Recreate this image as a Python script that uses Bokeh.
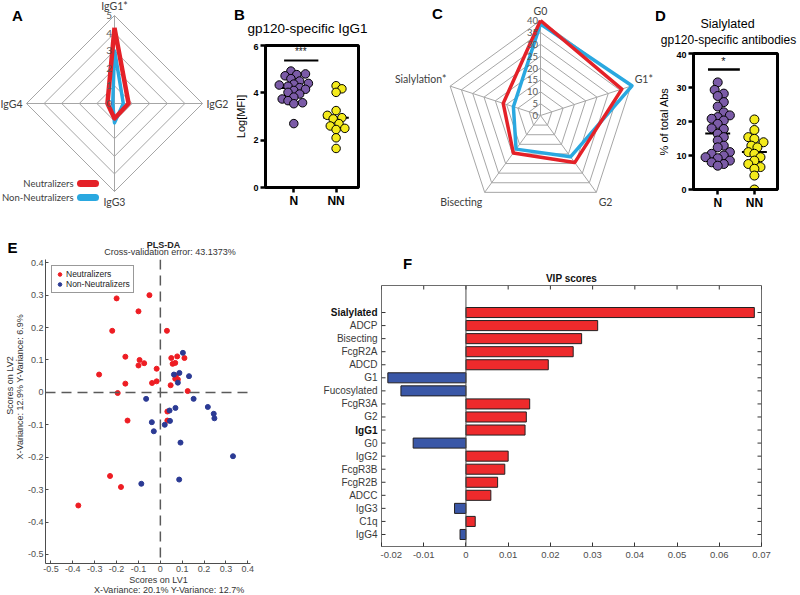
import math
from bokeh.plotting import figure
from bokeh.models import Range1d, Label, Span, FixedTicker, Legend, LegendItem, ColumnDataSource
from bokeh.layouts import row, column
from bokeh.embed import file_html
from bokeh.resources import INLINE
from bokeh.core.properties import value

# ================= DATA =================
# Panel A - IgG subclass radar
a_axes = ["IgG1*", "IgG2", "IgG3", "IgG4"]
a_neutralizers = [4.3, 0.8, 0.85, 0.4]
a_non_neutralizers = [3.05, 0.5, 1.1, 0.1]
a_ring_values = [0, 1, 2, 3, 4, 5]
a_ring_labels = ["0", "1", "2", "3", "4", "5"]
a_legend = ["Neutralizers", "Non-Neutralizers"]

# Panel B - gp120-specific IgG1
b_title = "gp120-specific IgG1"
b_groups = ["N", "NN"]
b_n = [4.92, 4.8, 4.77, 4.72, 4.6, 4.5, 4.4, 4.37, 4.33, 4.28, 4.22,
       4.15, 4.1, 4.02, 3.95, 3.82, 3.74, 3.67, 3.58, 3.54, 2.7]
b_nn = [4.3, 4.17, 4.02, 3.25, 3.05, 2.95, 2.9, 2.7, 2.6, 2.5, 2.45, 2.1, 1.65]
b_means = [4.2, 2.95]
b_yticks = [0, 2, 4, 6]
b_ylabel = "Log[MFI]"
b_sig = "***"

# Panel C - glycan radar
c_axes = ["G0", "G1*", "G2", "Bisecting", "Sialylation*"]
c_neutralizers = [40, 36, 24.5, 19.5, 16.5]
c_non_neutralizers = [38.5, 40.5, 21.5, 17.5, 12]
c_ring_values = [0, 5, 10, 15, 20, 25, 30, 35, 40]
c_ring_labels = ["0", "5", "10", "15", "20", "25", "30", "35", "40"]

# Panel D - sialylated antibodies
d_title = ["Sialylated", "gp120-specific antibodies"]
d_groups = ["N", "NN"]
d_n = [31.5, 29.3, 28.2, 27.5, 25.7, 24.4, 22.7, 21.8, 21.3, 20.8, 20.3, 19.3,
       18.0, 17.8, 16.4, 15.4, 14.4, 12.9, 12.4, 11.0, 10.5, 10.0, 9.5, 9.2,
       8.5, 8.0, 7.5, 7.0]
d_nn = [20.6, 17.5, 15.4, 14.9, 13.9, 12.9, 12.4, 11.0, 10.5, 9.5, 8.5, 7.5,
        6.6, 6.1, 4.1, 0.0]
d_means = [16.5, 11.0]
d_yticks = [0, 10, 20, 30, 40]
d_ylabel = "% of total Abs"
d_sig = "*"

# Panel E - PLS-DA scores
e_neut_x = [-0.05, -0.20, -0.10, -0.22, 0.03, -0.16, -0.095, -0.10, -0.074, -0.28,
            -0.017, -0.16, -0.038, -0.017, -0.195, -0.15, 0.05, 0.077, 0.11, 0.056,
            0.068, 0.071, 0.068, 0.08, 0.047, 0.125, 0.032, 0.032, -0.23, -0.18, -0.375]
e_neut_y = [0.30, 0.29, 0.25, 0.19, 0.19, 0.11, 0.10, 0.083, 0.09, 0.055,
            0.073, 0.027, 0.029, 0.034, -0.002, -0.087, 0.106, 0.111, 0.106, 0.088,
            0.091, 0.052, 0.042, 0.04, 0.022, 0.004, -0.059, -0.087, -0.258, -0.292, -0.349]
e_non_x = [0.103, 0.062, 0.087, 0.08, 0.131, 0.152, -0.065, 0.069, 0.042, 0.044,
           -0.039, 0.02, -0.03, 0.217, 0.244, 0.247, 0.092, 0.332, -0.087, 0.086]
e_non_y = [0.122, 0.055, 0.06, 0.03, 0.05, -0.02, -0.02, -0.048, -0.056, -0.088,
           -0.092, -0.10, -0.12, -0.045, -0.066, -0.08, -0.155, -0.197, -0.282, -0.269]
e_ticks = [-0.5, -0.4, -0.3, -0.2, -0.1, 0, 0.1, 0.2, 0.3, 0.4]
e_tick_labels = ["-0.5", "-0.4", "-0.3", "-0.2", "-0.1", "0", "0.1", "0.2", "0.3", "0.4"]
e_title = "PLS-DA"
e_subtitle = "Cross-validation error: 43.1373%"
e_xlabel = ["Scores on LV1", "X-Variance: 20.1%  Y-Variance: 12.7%"]
e_ylabel = ["Scores on LV2", "X-Variance: 12.9%  Y-Variance: 6.9%"]
e_legend = ["Neutralizers", "Non-Neutralizers"]

# Panel F - VIP scores
f_features = ["Sialylated", "ADCP", "Bisecting", "FcgR2A", "ADCD", "G1", "Fucosylated",
              "FcgR3A", "G2", "IgG1", "G0", "IgG2", "FcgR3B", "FcgR2B", "ADCC", "IgG3",
              "C1q", "IgG4"]
f_vip = [0.0683, 0.0312, 0.0274, 0.0254, 0.0195, -0.0185, -0.0154, 0.0151, 0.0143,
         0.0140, -0.0125, 0.0100, 0.0092, 0.0075, 0.0059, -0.0027, 0.0022, -0.0014]
f_bold = ["Sialylated", "IgG1"]
f_ticks = [-0.02, -0.01, 0, 0.01, 0.02, 0.03, 0.04, 0.05, 0.06, 0.07]
f_tick_labels = ["-0.02", "-0.01", "0", "0.01", "0.02", "0.03", "0.04", "0.05", "0.06", "0.07"]
f_title = "VIP scores"

# ================= STYLE =================
SANS = "Liberation Sans"
CAL = "Lato"
RADAR_RED = "#E42128"
RADAR_BLUE = "#2AA8E0"
PURPLE = "#7B5BA7"
YELLOW = "#F4EB1C"
E_RED = "#EE1D23"
E_BLUE = "#2B3A94"
F_RED = "#EE2A2C"
F_BLUE = "#3A57A7"
TOP_Y, TOP_H = 0, 236
BOT_Y, BOT_H = 236, 359


def mapper(fx0, fx1, fy0, fy1, xr, yr):
    sx = (xr[1] - xr[0]) / (fx1 - fx0)
    sy = (yr[1] - yr[0]) / (fy1 - fy0)
    return (lambda px: xr[0] + (px - fx0) * sx), (lambda py: yr[1] - (py - fy0) * sy)


def base_fig(w, h, xr, yr, borders, axes=True):
    kw = dict(width=w, height=h, x_range=xr if isinstance(xr, Range1d) else Range1d(*xr),
              y_range=yr if isinstance(yr, Range1d) else Range1d(*yr),
              output_backend="svg", toolbar_location=None, tools="",
              min_border_left=borders[0], min_border_right=borders[1],
              min_border_top=borders[2], min_border_bottom=borders[3])
    if axes is False:
        kw.update(x_axis_location=None, y_axis_location=None)
    elif axes == "x":
        kw.update(y_axis_location=None)
    p = figure(**kw)
    p.frame_align = False
    p.grid.visible = False
    p.outline_line_color = None
    p.background_fill_color = "white"
    p.border_fill_color = "white"
    return p


def strip(x0, y0, w, h):
    # a text-only strip whose data units are page pixels (y negated)
    return base_fig(w, h, (x0, x0 + w), (-(y0 + h), -y0), (0, 0, 0, 0), axes=False)


def stext(p, px, py, s, size, font=SANS, bold=False, align="center",
          baseline="middle", color="#000000", angle=0.0):
    p.text(x=[px], y=[-py], text=[s], text_font=value(font),
           text_font_size=value(f"{size}px"),
           text_font_style=value("bold" if bold else "normal"),
           text_align=value(align), text_baseline=value(baseline),
           text_color=color, angle=angle)


def label(p, x, y, s, size, font=SANS, bold=False, align="center",
          baseline="middle", color="#000000"):
    p.add_layout(Label(x=x, y=y, text=s, text_font=font, text_font_size=f"{size}px",
                       text_font_style="bold" if bold else "normal",
                       text_align=align, text_baseline=baseline, text_color=color))


def radar(p, s, labels, series, ring_values, ring_labels, label_size, ring_size):
    n = len(labels)
    rmax = ring_values[-1]
    ang = [math.pi / 2 - 2 * math.pi * k / n for k in range(n)]

    def poly(vals):
        xs = [v * math.cos(a) for v, a in zip(vals, ang)]
        ys = [v * math.sin(a) for v, a in zip(vals, ang)]
        return xs + xs[:1], ys + ys[:1]

    gx, gy = [], []
    for r in ring_values[1:]:
        x, y = poly([r] * n)
        gx.append(x)
        gy.append(y)
    for a in ang:
        gx.append([0, rmax * math.cos(a)])
        gy.append([0, rmax * math.sin(a)])
    p.multi_line(gx, gy, line_color="#A6A6A6", line_width=1)
    for r, lab in zip(ring_values, ring_labels):
        label(p, -2.5 / s, r, lab, ring_size, font=CAL, align="right", color="#595959")
    for vals, color, w in series:
        x, y = poly(vals)
        p.line(x, y, line_color=color, line_width=w, line_join="round")
    off = 4.0 / s
    for lab, a in zip(labels, ang):
        c, sn = math.cos(a), math.sin(a)
        align = "left" if c > 0.3 else ("right" if c < -0.3 else "center")
        base = "bottom" if sn > 0.3 else ("top" if sn < -0.3 else "middle")
        label(p, (rmax + off) * c, (rmax + off) * sn, lab, label_size, font=CAL,
              align=align, baseline=base, color="#404040")


def swarm(vals, center, px_x, px_y, d, gap):
    order = sorted(range(len(vals)), key=lambda i: vals[i])
    placed = []
    out = [center] * len(vals)
    cands = [0.0]
    for k in range(1, 40):
        cands += [k * d * 0.35, -k * d * 0.35]
    for i in order:
        ypx = vals[i] * px_y
        chosen = 0.0
        for c in cands:
            if all((c - qx) ** 2 + (ypx - qy) ** 2 >= (d * gap) ** 2 for qx, qy in placed):
                chosen = c
                break
        placed.append((chosen, ypx))
        out[i] = center + chosen / px_x
    return out


def prism_axes(p, yticks, xlabels, ylabel):
    p.outline_line_color = "black"
    p.outline_line_width = 3
    xa, ya = p.xaxis[0], p.yaxis[0]
    xa.ticker = FixedTicker(ticks=[1, 2])
    xa.major_label_overrides = {1: xlabels[0], 2: xlabels[1]}
    ya.ticker = FixedTicker(ticks=yticks)
    for ax in (xa, ya):
        ax.axis_line_width = 3
        ax.axis_line_color = "black"
        ax.major_tick_line_width = 2.5
        ax.major_tick_line_color = "black"
        ax.major_tick_out = 5
        ax.major_tick_in = 0
        ax.minor_tick_line_color = None
        ax.major_label_text_font = SANS
        ax.major_label_text_font_style = "bold"
        ax.major_label_text_color = "black"
    xa.major_label_text_font_size = "12px"
    xa.major_label_standoff = 1
    ya.major_label_text_font_size = "9px"
    ya.major_label_standoff = 2
    ya.axis_label = ylabel
    ya.axis_label_text_font = SANS
    ya.axis_label_text_font_style = "normal"
    ya.axis_label_text_font_size = "11px"
    ya.axis_label_text_color = "black"
    ya.axis_label_standoff = 3


def scatter_groups(p, groups_vals, means, pxx, pxy, d, half):
    for k, (vals, col) in enumerate(groups_vals):
        xs = swarm(vals, k + 1, pxx, pxy, d, 0.72)
        p.segment(x0=[k + 1 - half], x1=[k + 1 + half], y0=[means[k]], y1=[means[k]],
                  line_color="black", line_width=2)
        p.scatter(xs, vals, size=d, fill_color=col, line_color="black", line_width=1)


# ================= PANEL A =================
A_L, A_W = 0, 232
a_cx, a_cy, a_s = 114, 103, 17.6
pa = base_fig(A_W, TOP_H, ((A_L - a_cx) / a_s, (A_L + A_W - a_cx) / a_s),
              ((a_cy - (TOP_Y + TOP_H)) / a_s, (a_cy - TOP_Y) / a_s), (0, 0, 0, 0), axes=False)
aX = lambda px: (px - a_cx) / a_s
aY = lambda py: (a_cy - py) / a_s
radar(pa, a_s, a_axes, [(a_non_neutralizers, RADAR_BLUE, 3.5), (a_neutralizers, RADAR_RED, 4.5)],
      a_ring_values, a_ring_labels, 10.5, 10)
label(pa, aX(17), aY(15), "A", 15, bold=True)
for i, (lab, col) in enumerate(zip(a_legend, [RADAR_RED, RADAR_BLUE])):
    yy = 183 + 14 * i
    label(pa, aX(73), aY(yy), lab, 9.5, font=CAL, align="right", color="#404040")
    pa.line([aX(80), aX(95)], [aY(yy), aY(yy)], line_color=col, line_width=7, line_cap="round")

# ================= PANEL B =================
B_L, B_W, B_SH = 232, 153, 43
b_fx0, b_fx1, b_fy0, b_fy1 = 263, 358, 45, 187
b_xr, b_yr = (0.33, 2.53), (0, 6)
b_strip = strip(B_L, TOP_Y, B_W, B_SH)
stext(b_strip, 239, 14, "B", 15, bold=True)
stext(b_strip, 307, 28, b_title, 13.5)
b_top = TOP_Y + B_SH
pb = base_fig(B_W, TOP_H - B_SH, b_xr, b_yr,
              (b_fx0 - B_L, B_L + B_W - b_fx1, b_fy0 - b_top, TOP_Y + TOP_H - b_fy1))
bX, bY = mapper(b_fx0, b_fx1, b_fy0, b_fy1, b_xr, b_yr)
prism_axes(pb, b_yticks, b_groups, b_ylabel)
scatter_groups(pb, [(b_n, PURPLE), (b_nn, YELLOW)], b_means,
               (b_fx1 - b_fx0) / (b_xr[1] - b_xr[0]), (b_fy1 - b_fy0) / (b_yr[1] - b_yr[0]), 8.5, 0.3)
pb.segment(x0=[bX(282)], x1=[bX(317)], y0=[bY(60)], y1=[bY(60)], line_color="black", line_width=2)
label(pb, bX(299), bY(56), b_sig, 10, baseline="bottom", color="#111111")

# ================= PANEL C =================
C_L, C_W = 385, 270
c_cx, c_cy, c_s = 540, 115, 2.375
pc = base_fig(C_W, TOP_H, ((C_L - c_cx) / c_s, (C_L + C_W - c_cx) / c_s),
              ((c_cy - (TOP_Y + TOP_H)) / c_s, (c_cy - TOP_Y) / c_s), (0, 0, 0, 0), axes=False)
cX = lambda px: (px - c_cx) / c_s
cY = lambda py: (c_cy - py) / c_s
radar(pc, c_s, c_axes, [(c_non_neutralizers, RADAR_BLUE, 3.5), (c_neutralizers, RADAR_RED, 3.5)],
      c_ring_values, c_ring_labels, 10.5, 9.5)
label(pc, cX(437), cY(13), "C", 15, bold=True)

# ================= PANEL D =================
D_L, D_W, D_SH = 655, 145, 51
d_fx0, d_fx1, d_fy0, d_fy1 = 690, 777, 53, 189
d_xr, d_yr = (0.34, 2.63), (0, 40)
d_strip = strip(D_L, TOP_Y, D_W, D_SH)
stext(d_strip, 660, 15, "D", 15, bold=True)
stext(d_strip, 727, 23, d_title[0], 12.5)
stext(d_strip, 728, 39, d_title[1], 12)
d_top = TOP_Y + D_SH
pd_ = base_fig(D_W, TOP_H - D_SH, d_xr, d_yr,
               (d_fx0 - D_L, D_L + D_W - d_fx1, d_fy0 - d_top, TOP_Y + TOP_H - d_fy1))
dX, dY = mapper(d_fx0, d_fx1, d_fy0, d_fy1, d_xr, d_yr)
prism_axes(pd_, d_yticks, d_groups, d_ylabel)
scatter_groups(pd_, [(d_n, PURPLE), (d_nn, YELLOW)], d_means,
               (d_fx1 - d_fx0) / (d_xr[1] - d_xr[0]), (d_fy1 - d_fy0) / (d_yr[1] - d_yr[0]), 9, 0.34)
pd_.segment(x0=[dX(705)], x1=[dX(738)], y0=[dY(69)], y1=[dY(69)], line_color="black", line_width=2.5)
label(pd_, dX(721), dY(66), d_sig, 11, baseline="bottom", color="#111111")

# ================= PANEL E =================
E_L, E_W, E_SH, E_LW, E_BH = 0, 300, 21, 24, 20
e_fx0, e_fx1, e_fy0, e_fy1 = 43, 250, 259, 563
e_xr, e_yr = (-0.525, 0.412), (-0.528, 0.41)
e_strip = strip(E_L, BOT_Y, E_W, E_SH)
stext(e_strip, 12, 247, "E", 15, bold=True)
stext(e_strip, 163, 244.5, e_title, 9, bold=True, color="#222222")
stext(e_strip, 169.5, 251.5, e_subtitle, 9, color="#333333")
e_top = BOT_Y + E_SH
e_mid_h = BOT_Y + BOT_H - e_top
e_left = strip(E_L, e_top, E_LW, e_mid_h)
stext(e_left, 9, 385, e_ylabel[0], 9, color="#333333", angle=math.pi / 2)
stext(e_left, 19, 385, e_ylabel[1], 9, color="#333333", angle=math.pi / 2)
pe_L = E_L + E_LW
pe_W = E_W - E_LW
pe_H = e_mid_h - E_BH
pe = base_fig(pe_W, pe_H, e_xr, e_yr,
              (e_fx0 - pe_L, pe_L + pe_W - e_fx1, e_fy0 - e_top, e_top + pe_H - e_fy1))
for ax in (pe.xaxis[0], pe.yaxis[0]):
    ax.ticker = FixedTicker(ticks=e_ticks)
    ax.major_label_overrides = dict(zip(e_ticks, e_tick_labels))
    ax.axis_line_color = "#4D4D4D"
    ax.major_tick_line_color = "#4D4D4D"
    ax.major_tick_in = 3
    ax.major_tick_out = 0
    ax.minor_tick_line_color = None
    ax.major_label_text_font = SANS
    ax.major_label_text_font_size = "9px"
    ax.major_label_text_color = "#4D4D4D"
    ax.major_label_standoff = 2
pe.add_layout(Span(location=0, dimension="height", line_color="#5A5A5A", line_width=1.5, line_dash="10 6"))
pe.add_layout(Span(location=0, dimension="width", line_color="#5A5A5A", line_width=1.5, line_dash="10 6"))
r_neut = pe.scatter(e_neut_x, e_neut_y, size=5, fill_color=E_RED, line_color=E_RED)
r_non = pe.scatter(e_non_x, e_non_y, size=5, fill_color=E_BLUE, line_color=E_BLUE)
leg = Legend(items=[LegendItem(label=e_legend[0], renderers=[r_neut]),
                    LegendItem(label=e_legend[1], renderers=[r_non])],
             location="top_left", margin=6, padding=3, spacing=0,
             border_line_color="#333333", border_line_width=1,
             label_text_font=SANS, label_text_font_size="8.5px", label_text_color="#222222",
             glyph_width=9, glyph_height=10, label_height=10, label_standoff=2)
pe.add_layout(leg)
e_bottom = strip(pe_L, e_top + pe_H, pe_W, E_BH)
stext(e_bottom, 158, 579, e_xlabel[0], 9, color="#333333")
stext(e_bottom, 170, 589, e_xlabel[1], 9, color="#333333")

# ================= PANEL F =================
F_L, F_W, F_SH, F_LW = 300, 500, 47, 80
f_fx0, f_fx1, f_fy0, f_fy1 = 381, 761, 285, 546
f_xr = (-0.02, 0.07)
f_yrange = Range1d(17.92, -2.07)
f_strip = strip(F_L, BOT_Y, F_W, F_SH)
stext(f_strip, 407, 263, "F", 15, bold=True)
stext(f_strip, 571, 278, f_title, 10, bold=True, color="#111111")
f_top = BOT_Y + F_SH
f_h = BOT_Y + BOT_H - f_top
f_idx = list(range(len(f_features)))
f_lab = base_fig(F_LW, f_h, (F_L, F_L + F_LW), f_yrange,
                 (0, 0, f_fy0 - f_top, f_top + f_h - f_fy1), axes=False)
f_lab.text(x=[377] * len(f_features), y=f_idx, text=f_features, text_font=value(SANS),
           text_font_size=value("10px"),
           text_font_style=["bold" if n in f_bold else "normal" for n in f_features],
           text_color=["#111111" if n in f_bold else "#3A3A3A" for n in f_features],
           text_align=value("right"), text_baseline=value("middle"))
pf_L = F_L + F_LW
pf_W = F_W - F_LW
pf = base_fig(pf_W, f_h, f_xr, f_yrange,
              (f_fx0 - pf_L, pf_L + pf_W - f_fx1, f_fy0 - f_top, f_top + f_h - f_fy1), axes="x")
pf.outline_line_color = "#6D6D6D"
pf.outline_line_width = 1
f_src = ColumnDataSource(dict(y=f_idx, v=f_vip,
                              c=[F_RED if v > 0 else F_BLUE for v in f_vip]))
pf.add_layout(Span(location=0, dimension="height", line_color="#4D4D4D", line_width=1))
pf.hbar(y="y", left=0, right="v", height=0.77, fill_color="c", line_color="#231F20",
        line_width=1, source=f_src)
xa = pf.xaxis[0]
xa.ticker = FixedTicker(ticks=f_ticks)
xa.major_label_overrides = dict(zip(f_ticks, f_tick_labels))
xa.axis_line_color = None
xa.major_tick_line_color = "#333333"
xa.major_tick_in = 4
xa.major_tick_out = 0
xa.minor_tick_line_color = None
xa.major_label_text_font = SANS
xa.major_label_text_color = "#4D4D4D"
xa.major_label_text_font_size = "9.5px"
xa.major_label_standoff = 5
# inward tick marks on the top, left and right frame edges (4 px long)
f_dx = 4 * (f_xr[1] - f_xr[0]) / (f_fx1 - f_fx0)
f_dy = 4 * (f_yrange.start - f_yrange.end) / (f_fy1 - f_fy0)
pf.segment(x0=f_ticks, x1=f_ticks, y0=[f_yrange.end] * len(f_ticks),
           y1=[f_yrange.end + f_dy] * len(f_ticks), line_color="#333333", line_width=1)
pf.segment(x0=[f_xr[0]] * len(f_idx), x1=[f_xr[0] + f_dx] * len(f_idx), y0=f_idx, y1=f_idx,
           line_color="#333333", line_width=1)
pf.segment(x0=[f_xr[1]] * len(f_idx), x1=[f_xr[1] - f_dx] * len(f_idx), y0=f_idx, y1=f_idx,
           line_color="#333333", line_width=1)

layout = column(
    row(pa, column(b_strip, pb, spacing=0), pc, column(d_strip, pd_, spacing=0), spacing=0),
    row(column(e_strip, row(e_left, column(pe, e_bottom, spacing=0), spacing=0), spacing=0),
        column(f_strip, row(f_lab, pf, spacing=0), spacing=0), spacing=0),
    spacing=0)
open("out.html", "w").write(file_html(layout, INLINE))
